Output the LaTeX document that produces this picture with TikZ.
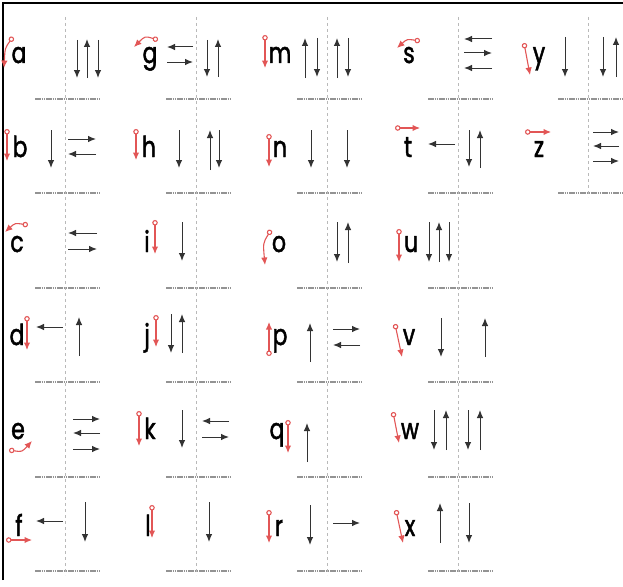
\documentclass[tikz,border=0pt]{standalone}
\usepackage{fontspec}
\setmainfont{Poppins}
\newfontfamily\glyphfont{Poppins}[FakeBold=1.6,FakeStretch=0.76]
\usetikzlibrary{arrows.meta}
\definecolor{guidered}{RGB}{226,86,86}

\begin{document}
\begin{tikzpicture}[x=1pt,y=-1pt,
  pen/.style={-{Latex[length=8pt,width=6.5pt]},line width=1pt,black!80},
  guide/.style={{Circle[open,length=5.5pt,width=5.5pt]}-{Latex[length=7.5pt,width=6.5pt]},line width=1.1pt,guidered},
  midline/.style={gray!55,dash pattern=on 3pt off 3pt,line width=0.6pt},
  rule/.style={gray!85,dash pattern=on 1.5pt off 0.7pt,line width=1.4pt},
  glyph/.style={anchor=base,inner sep=0pt,font=\fontsize{29}{29}\glyphfont}]

\useasboundingbox (0,0) rectangle (623,586);

% frame
\draw[line width=2.8pt] (3,580) -- (3,3) -- (623,3);

% guide lines
\foreach \vx in {65,196,327,458} {
  \draw[midline] (\vx,17) -- (\vx,575);
  \foreach \ry in {99,193,288,382,477,571}
    \draw[rule] (\vx-30,\ry) -- (\vx+35,\ry);
}
\draw[midline] (588,17) -- (588,197);
\foreach \ry in {99,193}
  \draw[rule] (558,\ry) -- (623,\ry);

% letters
\node[glyph] (La) at (19,63) {a};
\node[glyph] (Lg) at (150,63) {g};
\node[glyph] (Lm) at (280,63) {m};
\node[glyph] (Ls) at (409,63) {s};
\node[glyph] (Ly) at (539,63) {y};
\node[glyph] (Lb) at (20,157) {b};
\node[glyph] (Lh) at (149,157) {h};
\node[glyph] (Ln) at (280,157) {n};
\node[glyph] (Lt) at (408,157) {t};
\node[glyph] (Lz) at (539,157) {z};
\node[glyph] (Lc) at (17,252) {c};
\node[glyph] (Li) at (147,252) {i};
\node[glyph] (Lo) at (279,252) {o};
\node[glyph] (Lu) at (411,252) {u};
\node[glyph] (Ld) at (17,345) {d};
\node[glyph] (Lj) at (147,345) {j};
\node[glyph] (Lp) at (280,345) {p};
\node[glyph] (Lv) at (409,345) {v};
\node[glyph] (Le) at (18,439) {e};
\node[glyph] (Lk) at (150,439) {k};
\node[glyph] (Lq) at (277,439) {q};
\node[glyph] (Lw) at (410,439) {w};
\node[glyph] (Lf) at (19,536) {f};
\node[glyph] (Ll) at (148,536) {l};
\node[glyph] (Lr) at (279,536) {r};
\node[glyph] (Lx) at (410,536) {x};

% first strokes (red)
\draw[guide] (13,37) .. controls (5,48) .. (4,68);
\draw[guide] (158,40) .. controls (145,36) .. (134,47);
\draw[guide] (265,35) -- (265,68);
\draw[guide] (420,41) .. controls (407,39) .. (397,48);
\draw[guide] (524,43) -- (530,75);
\draw[guide] (7,129) -- (7,161);
\draw[guide] (136,129) -- (136,160);
\draw[guide] (269,134) -- (269,167);
\draw[guide] (395,128) -- (420,128);
\draw[guide] (525,132) -- (551,132);
\draw[guide] (28,225) .. controls (15,223) .. (5,232);
\draw[guide] (155,220) -- (155,254);
\draw[guide] (271,230) .. controls (263,243) .. (265,265);
\draw[guide] (399,229) -- (399,262);
\draw[guide] (27,316) -- (27,350);
\draw[guide] (156,315) -- (156,347);
\draw[guide] (269,356) -- (269,322);
\draw[guide] (395,324) -- (402,357);
\draw[guide] (9,450) .. controls (22,452) .. (32,441);
\draw[guide] (139,411) -- (139,446);
\draw[guide] (288,420) -- (288,453);
\draw[guide] (393,412) -- (399,443);
\draw[guide] (6,540) -- (32,540);
\draw[guide] (152,505) -- (152,538);
\draw[guide] (269,510) -- (269,543);
\draw[guide] (396,510) -- (403,543);

% row 1
\draw[pen] (77,40) -- (77,78);
\draw[pen] (87,78) -- (87,39);
\draw[pen] (98,40) -- (98,78);
\draw[pen] (193,47) -- (167,47);
\draw[pen] (167,62) -- (193,62);
\draw[pen] (207,40) -- (207,77);
\draw[pen] (218,77) -- (218,39);
\draw[pen] (305,78) -- (305,38);
\draw[pen] (317,38) -- (317,77);
\draw[pen] (337,78) -- (337,38);
\draw[pen] (348,38) -- (348,77);
\draw[pen] (492,39) -- (464,39);
\draw[pen] (464,53) -- (492,53);
\draw[pen] (492,68) -- (464,68);
\draw[pen] (565,37) -- (565,77);
\draw[pen] (603,37) -- (603,77);
\draw[pen] (616,77) -- (616,37);

% row 2
\draw[pen] (51,130) -- (51,168);
\draw[pen] (68,139) -- (96,139);
\draw[pen] (96,154) -- (68,154);
\draw[pen] (179,130) -- (179,168);
\draw[pen] (210,170) -- (210,130);
\draw[pen] (219,130) -- (219,168);
\draw[pen] (311,130) -- (311,168);
\draw[pen] (347,130) -- (347,168);
\draw[pen] (455,144) -- (428,144);
\draw[pen] (469,130) -- (469,167);
\draw[pen] (480,168) -- (480,130);
\draw[pen] (593,132) -- (619,132);
\draw[pen] (619,146) -- (593,146);
\draw[pen] (593,161) -- (619,161);

% row 3
\draw[pen] (97,233) -- (68,233);
\draw[pen] (68,249) -- (97,249);
\draw[pen] (182,222) -- (182,261);
\draw[pen] (337,222) -- (337,262);
\draw[pen] (348,263) -- (348,222);
\draw[pen] (429,222) -- (429,262);
\draw[pen] (439,262) -- (439,222);
\draw[pen] (449,222) -- (449,262);

% row 4
\draw[pen] (63,327) -- (36,327);
\draw[pen] (79,356) -- (79,317);
\draw[pen] (171,314) -- (171,353);
\draw[pen] (182,353) -- (182,314);
\draw[pen] (310,362) -- (310,323);
\draw[pen] (333,329) -- (360,329);
\draw[pen] (360,345) -- (333,345);
\draw[pen] (441,318) -- (441,357);
\draw[pen] (485,357) -- (485,318);

% row 5
\draw[pen] (73,419) -- (100,419);
\draw[pen] (100,433) -- (73,433);
\draw[pen] (73,449) -- (100,449);
\draw[pen] (182,410) -- (182,448);
\draw[pen] (229,421) -- (202,421);
\draw[pen] (202,437) -- (229,437);
\draw[pen] (307,462) -- (307,423);
\draw[pen] (434,410) -- (434,450);
\draw[pen] (446,450) -- (446,410);
\draw[pen] (468,410) -- (468,450);
\draw[pen] (480,450) -- (480,410);

% row 6
\draw[pen] (63,521) -- (36,521);
\draw[pen] (85,502) -- (85,542);
\draw[pen] (209,502) -- (209,542);
\draw[pen] (310,505) -- (310,545);
\draw[pen] (333,523) -- (360,523);
\draw[pen] (440,543) -- (440,503);
\draw[pen] (469,503) -- (469,543);

\end{tikzpicture}
\end{document}
